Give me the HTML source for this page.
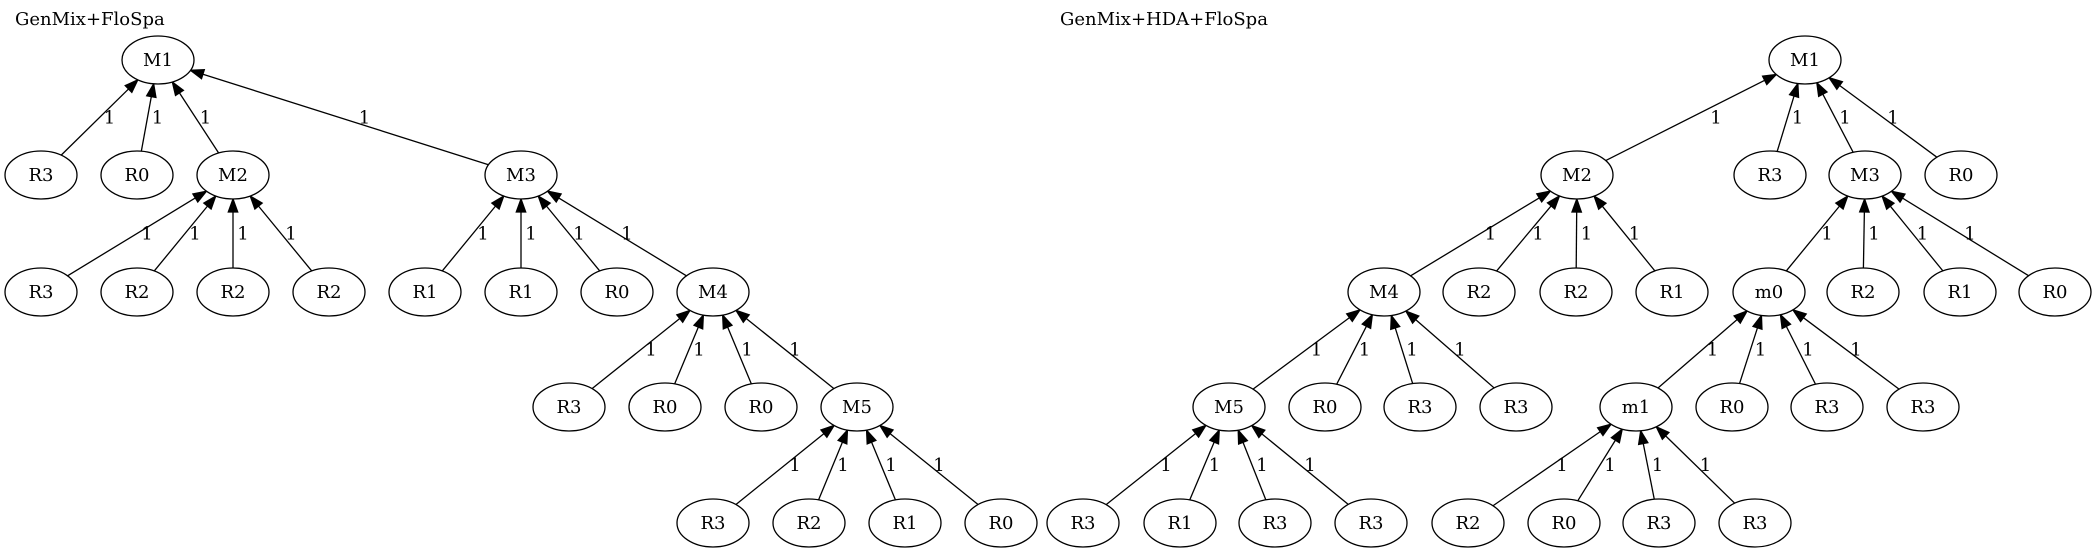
<!DOCTYPE html>
<html><head><meta charset="utf-8"><style>
html,body{margin:0;padding:0;background:#fff;}
svg{display:block;}
text{font-family:"DejaVu Serif","Liberation Serif",serif;font-size:18px;fill:#000;}
</style></head><body>
<svg id="s" width="2098" height="553" viewBox="0 0 2098 553" xmlns="http://www.w3.org/2000/svg">
<text x="15" y="25">GenMix+FloSpa</text>
<text x="1060" y="25">GenMix+HDA+FloSpa</text>
<g id="edges"></g>
<g id="nodes" fill="#fff" stroke="#000" stroke-width="1.3"></g>
<g id="labels" text-anchor="middle"></g>
</svg>
<script>
var Y=[60,175,292,407,523];
var nodes=[
['M1',158,0],['R3',41,1],['R0',137,1],['M2',233,1],['M3',521,1],
['R3',41,2],['R2',137,2],['R2',233,2],['R2',329,2],['R1',425,2],['R1',521,2],['R0',617,2],['M4',713,2],
['R3',569,3],['R0',665,3],['R0',761,3],['M5',857,3],
['R3',713,4],['R2',809,4],['R1',905,4],['R0',1001,4],
['M1',1805,0],['M2',1577,1],['R3',1770,1],['M3',1865,1],['R0',1961,1],
['M4',1384,2],['R2',1479,2],['R2',1576,2],['R1',1672,2],['m0',1769,2],['R2',1863,2],['R1',1960,2],['R0',2055,2],
['M5',1229,3],['R0',1325,3],['R3',1420,3],['R3',1516,3],['m1',1636,3],['R0',1732,3],['R3',1827,3],['R3',1923,3],
['R3',1083,4],['R1',1180,4],['R3',1275,4],['R3',1371,4],['R2',1468,4],['R0',1564,4],['R3',1659,4],['R3',1755,4]
];
var E=[[158,0,[41,137,233,521]],[233,1,[41,137,233,329]],[521,1,[425,521,617,713]],[713,2,[569,665,761,857]],[857,3,[713,809,905,1001]],
[1805,0,[1577,1770,1865,1961]],[1577,1,[1384,1479,1576,1672]],[1865,1,[1769,1863,1960,2055]],[1384,2,[1229,1325,1420,1516]],[1769,2,[1636,1732,1827,1923]],[1229,3,[1083,1180,1275,1371]],[1636,3,[1468,1564,1659,1755]]];
var NS='http://www.w3.org/2000/svg',eg=document.getElementById('edges'),ng=document.getElementById('nodes'),lg=document.getElementById('labels');
function mk(t,a,p){var e=document.createElementNS(NS,t);for(var k in a)e.setAttribute(k,a[k]);p.appendChild(e);return e;}
var RX=36,RY=24;
function bt(dx,dy){return 1/Math.sqrt((dx/RX)*(dx/RX)+(dy/RY)*(dy/RY));}
E.forEach(function(e){var px=e[0],py=Y[e[1]],cy=Y[e[1]+1];
e[2].forEach(function(cx){var dx=px-cx,dy=py-cy,L=Math.sqrt(dx*dx+dy*dy),ux=dx/L,uy=dy/L;
var ts=bt(ux,uy);var sx=cx+ux*ts,sy=cy+uy*ts;var tx=px-ux*ts,ty=py-uy*ts;
var bx=tx-ux*13,by=ty-uy*13;
mk('line',{x1:sx,y1:sy,x2:bx,y2:by,stroke:'#000','stroke-width':1.3},eg);
var nx=-uy,ny=ux;
mk('polygon',{points:tx+','+ty+' '+(bx+nx*4.7)+','+(by+ny*4.7)+' '+(bx-nx*4.7)+','+(by-ny*4.7),fill:'#000',stroke:'#000','stroke-width':1.3},eg);
var mx=(px+cx)/2,my=(py+cy)/2;var off=Math.abs(dx)>200?25:10;
var t=mk('text',{x:mx+off,y:my+6},lg);t.textContent='1';});});
nodes.forEach(function(n){var y=Y[n[2]];mk('ellipse',{cx:n[1],cy:y,rx:RX,ry:RY},ng);
var t=mk('text',{x:n[1],y:y+6,'text-anchor':'middle',stroke:'none'},lg);t.textContent=n[0];});
</script>
</body></html>
